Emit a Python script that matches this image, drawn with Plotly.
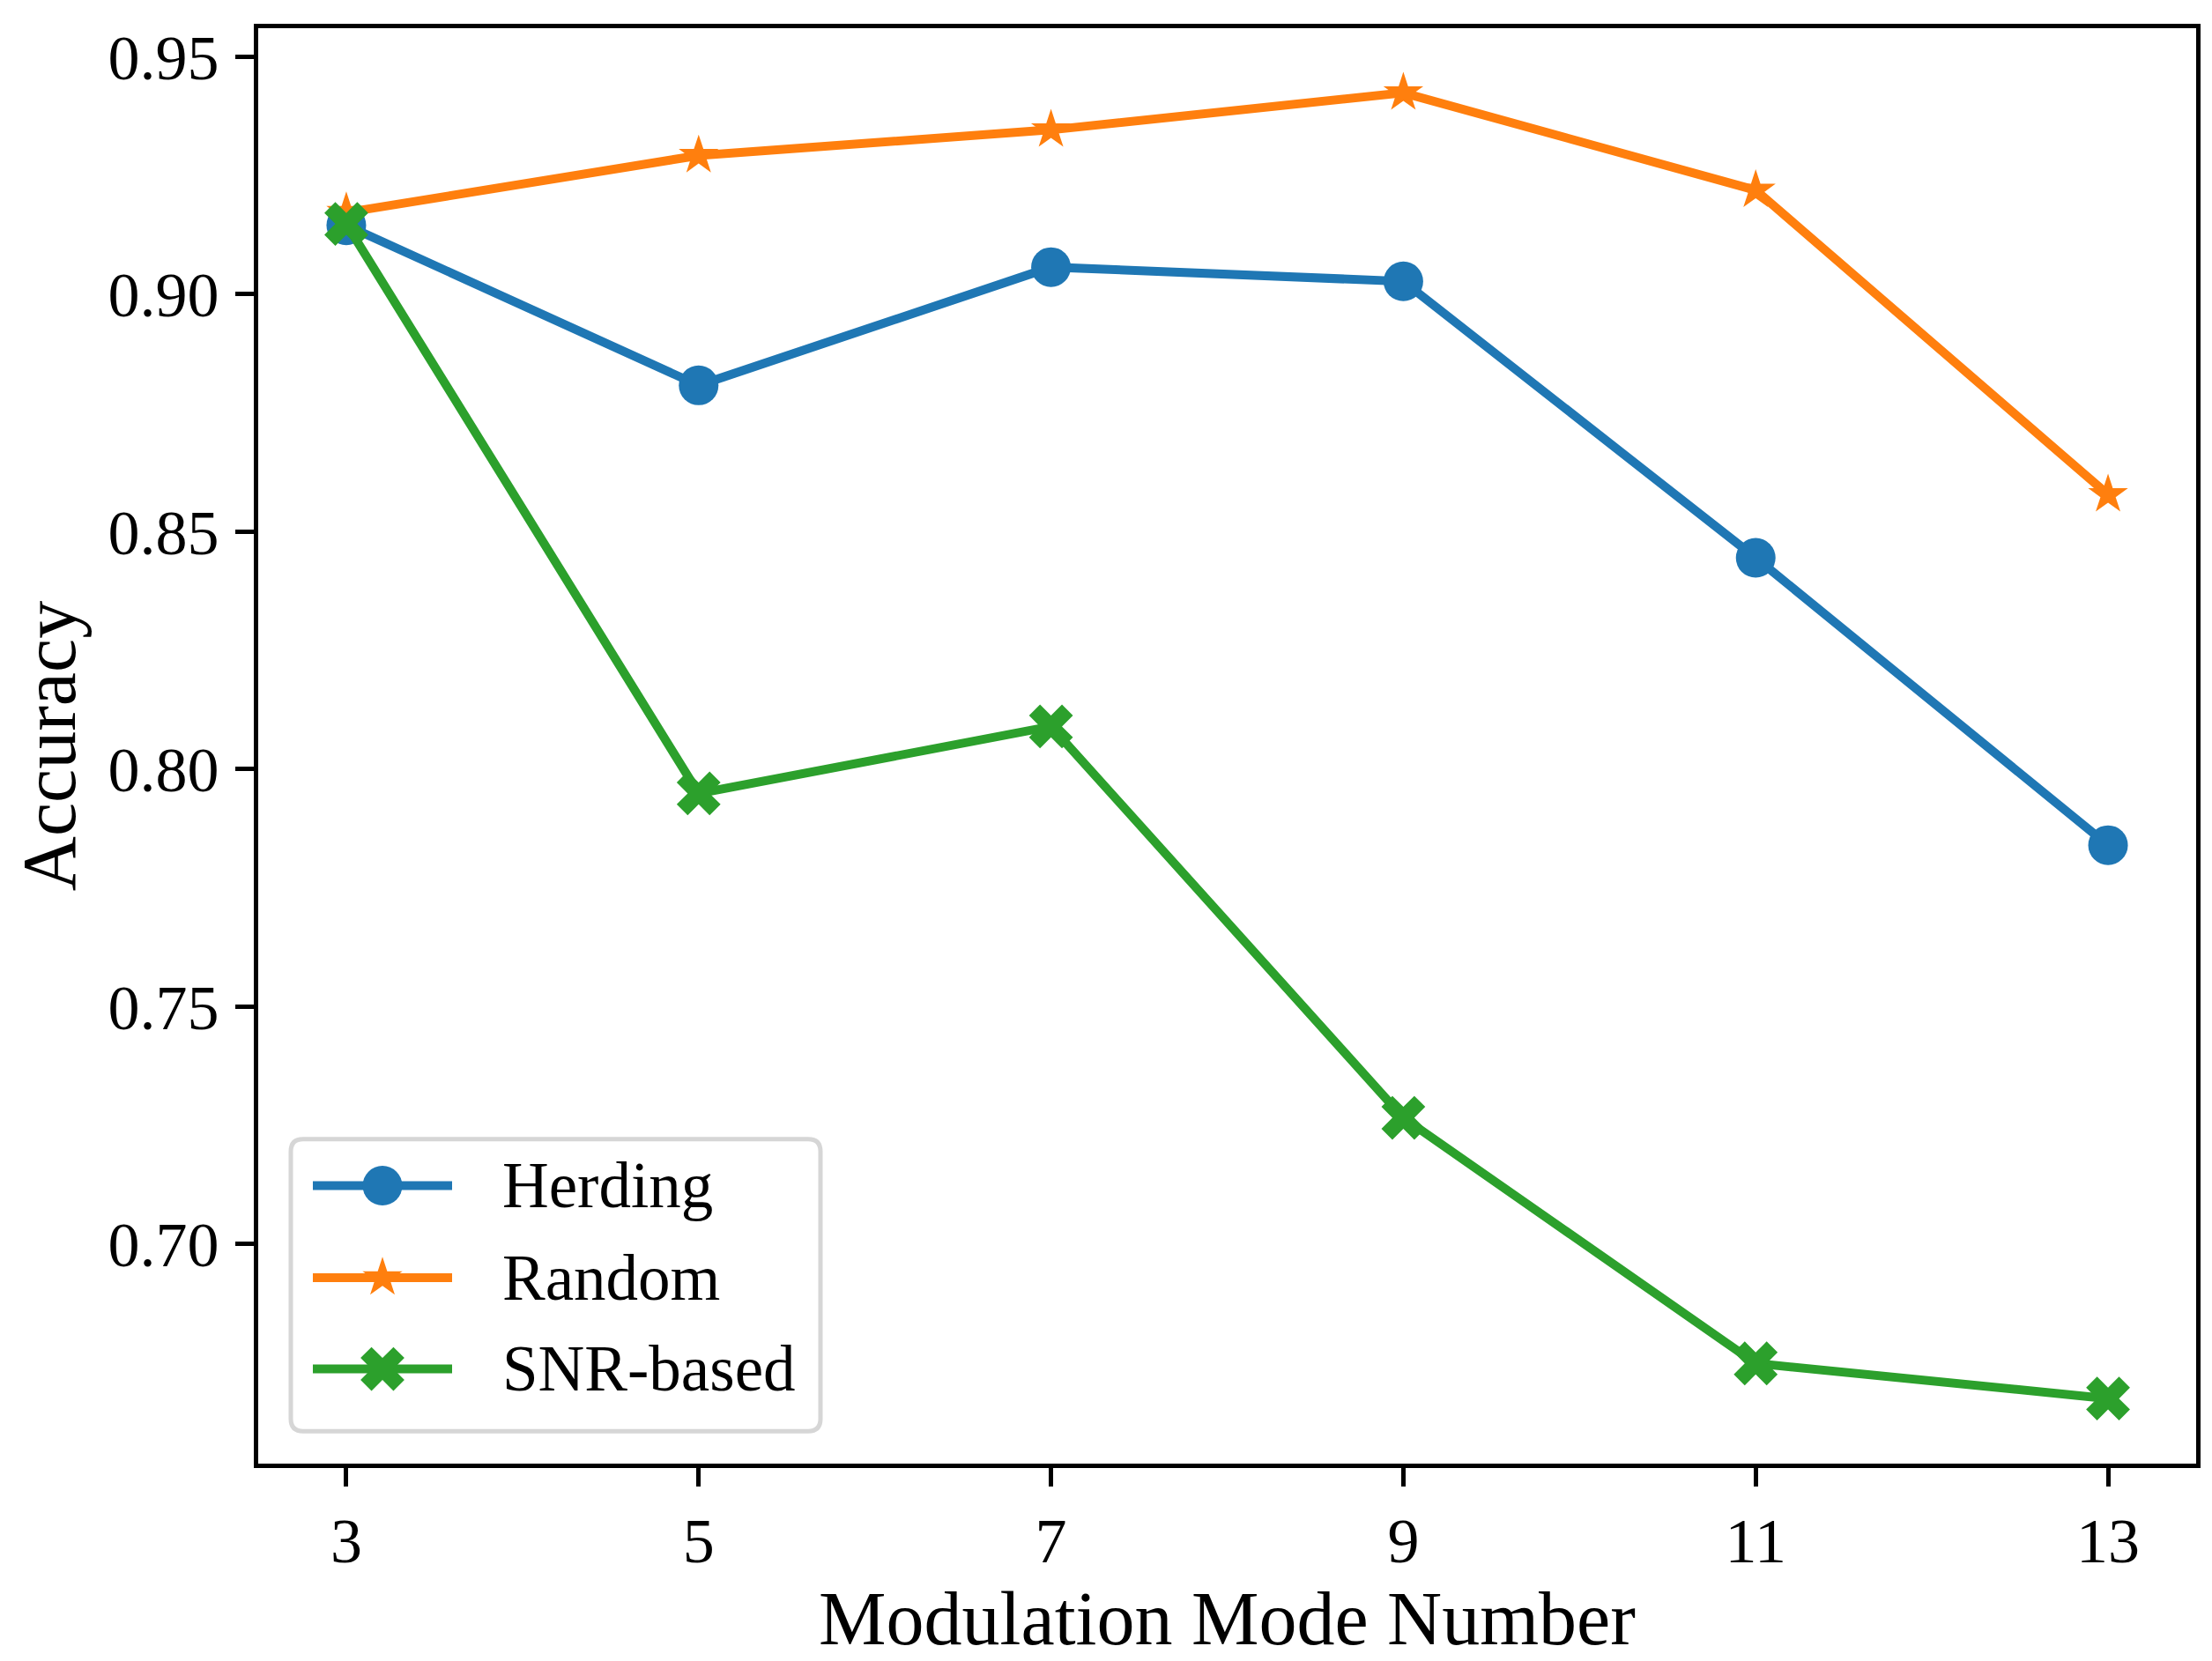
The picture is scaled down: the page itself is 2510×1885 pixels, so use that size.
import plotly.graph_objects as go

# ---------------- data ----------------
modes = [3, 5, 7, 9, 11, 13]
herding = [0.9145, 0.8808, 0.9057, 0.9027, 0.8445, 0.7840]
random_sel = [0.9172, 0.9292, 0.9346, 0.9424, 0.9219, 0.8578]
snr_based = [0.9148, 0.7949, 0.8090, 0.7266, 0.6749, 0.6675]

series_names = ["Herding", "Random", "SNR-based"]
x_ticks = [3, 5, 7, 9, 11, 13]
y_ticks = [0.70, 0.75, 0.80, 0.85, 0.90, 0.95]
y_tick_labels = ["0.70", "0.75", "0.80", "0.85", "0.90", "0.95"]

# ---------------- styles ----------------
colors = ["#1f77b4", "#ff7f0e", "#2ca02c"]
symbols = ["circle", "star", "x"]
sizes = [45, 34, 44]
FONT = "Liberation Serif, Times New Roman, serif"

# figure geometry (page body has an 8px margin)
W, H = 2502, 1877
ML, MR, MT, MB = 285, 18, 24, 216
PW, PH = W - ML - MR, H - MT - MB

fig = go.Figure()
for name, vals, c, sym, sz in zip(series_names, [herding, random_sel, snr_based], colors, symbols, sizes):
    fig.add_trace(go.Scatter(
        x=modes, y=vals, name=name, mode="lines+markers",
        line=dict(color=c, width=10),
        marker=dict(symbol=sym, size=sz, color=c, line=dict(width=0)),
        showlegend=False,
    ))

# ---------------- legend (drawn on a pixel overlay axis) ----------------
LEG_L, LEG_R, LEG_T, LEG_B, LEG_RAD = 37, 638, 1267, 1600, 14
row_y = [1320, 1425, 1529]
key_x0, key_x1, key_xm, text_x = 62, 220, 141, 275

for name, c, sym, sz, ry in zip(series_names, colors, symbols, sizes, row_y):
    fig.add_trace(go.Scatter(
        x=[key_x0, key_x1], y=[ry, ry], mode="lines",
        line=dict(color=c, width=10), xaxis="x2", yaxis="y2",
        showlegend=False, hoverinfo="skip",
    ))
    fig.add_trace(go.Scatter(
        x=[key_xm], y=[ry], mode="markers",
        marker=dict(symbol=sym, size=sz, color=c, line=dict(width=0)),
        xaxis="x2", yaxis="y2", showlegend=False, hoverinfo="skip",
    ))
    fig.add_annotation(
        x=text_x, y=ry, xref="x2", yref="y2", text=name, showarrow=False,
        xanchor="left", yanchor="middle",
        font=dict(family=FONT, size=73, color="black"),
    )

r = LEG_RAD
frame_path = (
    f"M {LEG_L + r},{LEG_T} L {LEG_R - r},{LEG_T} Q {LEG_R},{LEG_T} {LEG_R},{LEG_T + r} "
    f"L {LEG_R},{LEG_B - r} Q {LEG_R},{LEG_B} {LEG_R - r},{LEG_B} "
    f"L {LEG_L + r},{LEG_B} Q {LEG_L},{LEG_B} {LEG_L},{LEG_B - r} "
    f"L {LEG_L},{LEG_T + r} Q {LEG_L},{LEG_T} {LEG_L + r},{LEG_T} Z"
)
fig.add_shape(type="path", path=frame_path, xref="x2", yref="y2",
              line=dict(color="#d6d6d6", width=5), fillcolor="white", layer="below")

axis_common = dict(
    showline=True, linecolor="black", linewidth=5, mirror=True,
    ticks="outside", ticklen=21, tickwidth=5, tickcolor="black",
    showgrid=False, zeroline=False,
    tickfont=dict(family=FONT, size=72, color="black"),
)

fig.update_layout(
    width=W, height=H,
    paper_bgcolor="white", plot_bgcolor="white",
    margin=dict(l=ML, r=MR, t=MT, b=MB),
    font=dict(family=FONT, color="black"),
    showlegend=False,
    xaxis=dict(range=[2.5, 13.5], tickvals=x_ticks,
               title=dict(text="Modulation Mode Number", font=dict(family=FONT, size=86), standoff=23),
               **axis_common),
    yaxis=dict(range=[0.6538, 0.9560], tickvals=y_ticks, ticktext=y_tick_labels,
               ticklabelstandoff=4,
               title=dict(text="Accuracy", font=dict(family=FONT, size=86), standoff=33),
               **axis_common),
    xaxis2=dict(overlaying="x", range=[0, PW], visible=False, fixedrange=True),
    yaxis2=dict(overlaying="y", range=[PH, 0], visible=False, fixedrange=True),
)

fig.write_html("out.html")
